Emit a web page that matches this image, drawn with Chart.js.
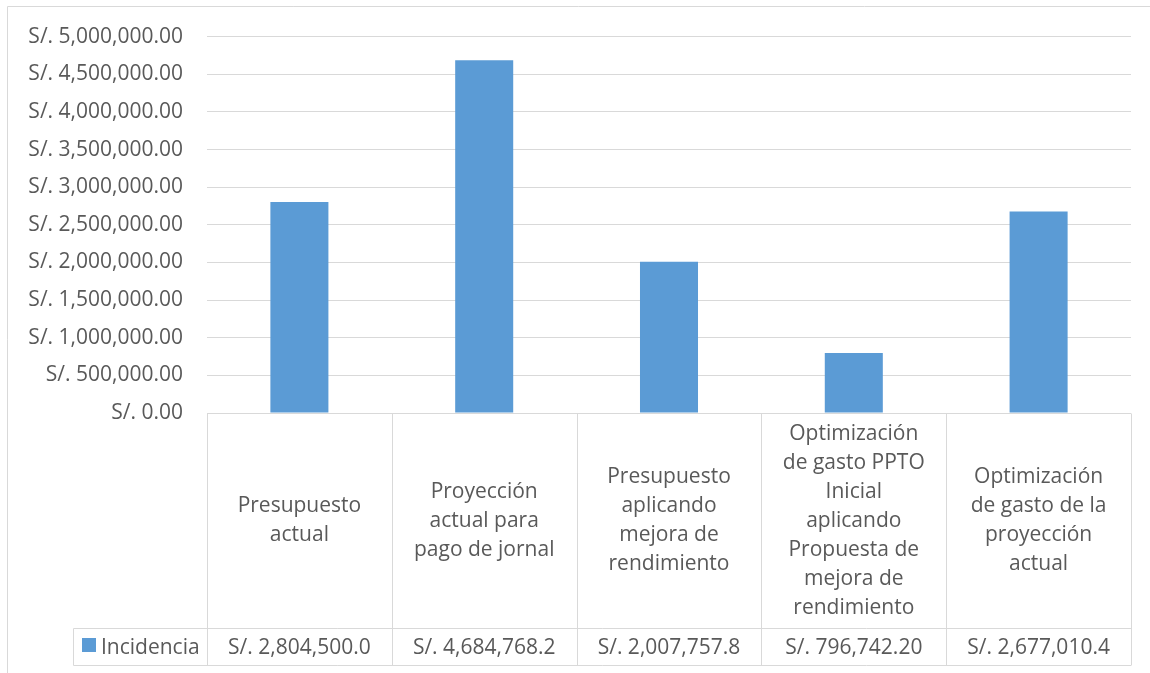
<!DOCTYPE html>
<html>
<head>
<meta charset="utf-8">
<script src="https://cdn.jsdelivr.net/npm/chart.js@4.4.0/dist/chart.umd.min.js"></script>
<style>
html, body { margin: 0; padding: 0; background: #fff; }
#wrap { width: 1150px; height: 673px; }
</style>
</head>
<body>
<div id="wrap"><canvas id="chart"></canvas></div>
<script>
// Chart data
const categories = [
    ["Presupuesto", "actual"],
    ["Proyección", "actual para", "pago de jornal"],
    ["Presupuesto", "aplicando", "mejora de", "rendimiento"],
    ["Optimización", "de gasto PPTO", "Inicial", "aplicando", "Propuesta de", "mejora de", "rendimiento"],
    ["Optimización", "de gasto de la", "proyección", "actual"]
];
const values = [2804500.00, 4684768.20, 2007757.80, 796742.20, 2677010.40];
const seriesName = "Incidencia";
const yMax = 5000000;
const yStep = 500000;

const FONT = "'Open Sans', sans-serif";
const FSIZE = 21;
const TEXT = "#595959";
const LINE = "#d9d9d9";
const BLUE = "#5b9bd5";

function money(v){
    return "S/. " + v.toLocaleString("en-US", {minimumFractionDigits: 2, maximumFractionDigits: 2});
}

// draws the outer frame and the data table under the bars
const dataTable = {
    id: "dataTable",
    beforeDraw(chart){
        let ctx = chart.ctx;
        ctx.save();
        ctx.strokeStyle = LINE;
        ctx.lineWidth = 1;
        ctx.beginPath();
        ctx.moveTo(7.5, 673);
        ctx.lineTo(7.5, 6.5);
        ctx.lineTo(1150, 6.5);
        ctx.stroke();
        ctx.restore();
    },
    afterDraw(chart){
        let ctx = chart.ctx;
        let xs = chart.scales.x;
        let area = chart.chartArea;
        let n = categories.length;
        let cw = (area.right - area.left) / n;
        let top = Math.round(area.bottom) + 0.5;
        let rowTop = 628.5, rowBot = 665.5, legLeft = 73.5;

        ctx.save();
        ctx.strokeStyle = LINE;
        ctx.lineWidth = 1;
        ctx.beginPath();
        ctx.moveTo(area.left, top); ctx.lineTo(area.right, top);
        ctx.moveTo(legLeft, rowTop); ctx.lineTo(area.right, rowTop);
        ctx.moveTo(legLeft, rowBot); ctx.lineTo(area.right, rowBot);
        ctx.moveTo(legLeft, rowTop); ctx.lineTo(legLeft, rowBot);
        for (let i = 0; i <= n; i++){
            let x = Math.round(area.left + i * cw) + 0.5;
            ctx.moveTo(x, top); ctx.lineTo(x, rowBot);
        }
        ctx.stroke();

        ctx.fillStyle = TEXT;
        ctx.font = FSIZE + "px " + FONT;
        ctx.textAlign = "center";
        ctx.textBaseline = "middle";
        let lh = 29;
        let mid = (top + rowTop) / 2;
        categories.forEach((lines, i) => {
            let cx = xs.getPixelForValue(i);
            let y0 = mid - (lines.length - 1) * lh / 2;
            lines.forEach((t, j) => ctx.fillText(t, cx, y0 + j * lh));
        });

        // value row, truncated to the cell like the spreadsheet does
        let vy = (rowTop + rowBot) / 2 + 1;
        values.forEach((v, i) => {
            let s = money(v);
            while (ctx.measureText(s).width > cw - 34) s = s.slice(0, -1);
            ctx.fillText(s, xs.getPixelForValue(i), vy);
        });

        // legend key
        ctx.fillStyle = BLUE;
        ctx.fillRect(82, 638, 14, 14);
        ctx.fillStyle = TEXT;
        ctx.textAlign = "left";
        ctx.fillText(seriesName, 101, vy);
        ctx.restore();
    }
};

new Chart(document.getElementById("chart"), {
    type: "bar",
    data: {
        labels: categories,
        datasets: [{
            label: seriesName,
            data: values,
            backgroundColor: BLUE,
            categoryPercentage: 1,
            barPercentage: 0.314
        }]
    },
    options: {
        responsive: true,
        maintainAspectRatio: false,
        animation: false,
        layout: { padding: { top: 35, right: 19, bottom: 260, left: 0 } },
        plugins: { legend: { display: false }, tooltip: { enabled: false } },
        scales: {
            x: { display: false },
            y: {
                min: 0,
                max: yMax,
                afterFit(scale){ scale.width = 207; },
                ticks: {
                    stepSize: yStep,
                    padding: 24,
                    color: TEXT,
                    font: { family: FONT, size: FSIZE },
                    callback: v => money(v)
                },
                grid: { color: LINE, drawTicks: false },
                border: { display: false }
            }
        }
    },
    plugins: [dataTable]
});
</script>
</body>
</html>
